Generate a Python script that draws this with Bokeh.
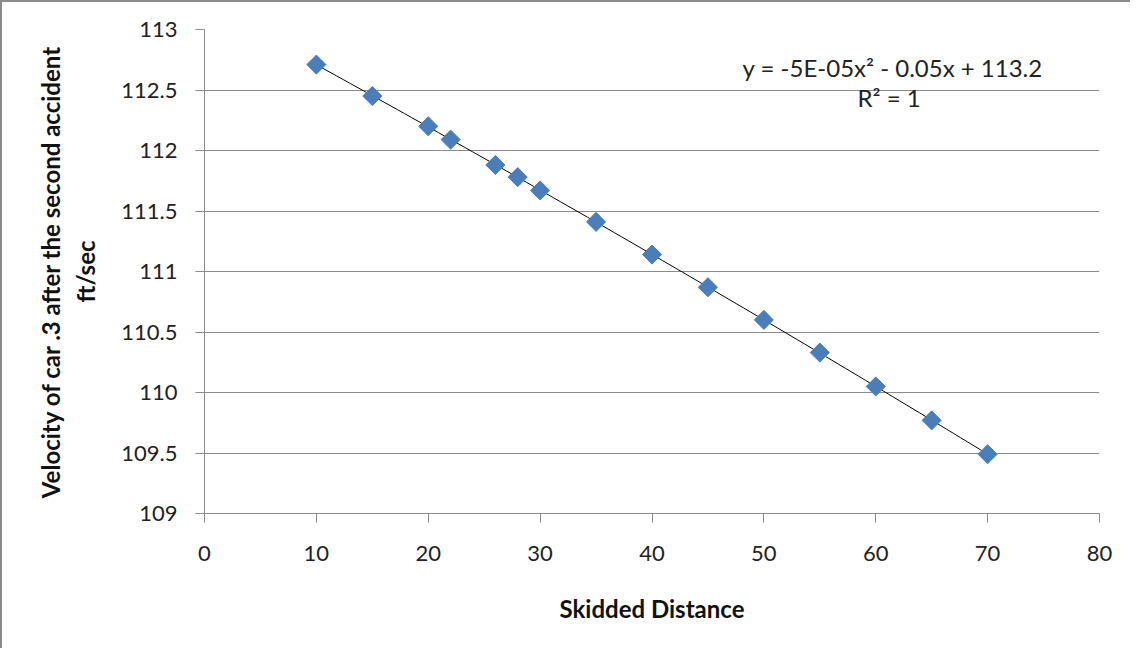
import numpy as np
from bokeh.plotting import figure
from bokeh.models import Label, FixedTicker
from bokeh.embed import file_html
from bokeh.resources import INLINE

# data
distance = [10, 15, 20, 22, 26, 28, 30, 35, 40, 45, 50, 55, 60, 65, 70]
velocity = [112.71, 112.45, 112.20, 112.09, 111.88, 111.78, 111.67, 111.41,
            111.14, 110.87, 110.60, 110.33, 110.05, 109.77, 109.49]
x_ticks = [0, 10, 20, 30, 40, 50, 60, 70, 80]
y_ticks = [109, 109.5, 110, 110.5, 111, 111.5, 112, 112.5, 113]
equation_text = "y = -5E-05x\u00b2 - 0.05x + 113.2"
r2_text = "R\u00b2 = 1"

FONT = "Lato"
GRAY = "#8c8c8c"

p = figure(width=1130, height=648, output_backend="svg", toolbar_location=None,
           x_range=(0, 80), y_range=(109, 113),
           min_border_left=202, min_border_top=27, min_border_right=33,
           min_border_bottom=137)
p.styles = {"border-left": "2px solid #8c8c8c", "border-top": "2px solid #8c8c8c"}
p.outline_line_color = None
p.background_fill_color = "white"
p.border_fill_color = "white"

# grid
p.xgrid.grid_line_color = None
p.ygrid.grid_line_color = GRAY
p.ygrid.grid_line_width = 1

for ax in (p.xaxis[0], p.yaxis[0]):
    ax.axis_line_color = GRAY
    ax.major_tick_line_color = GRAY
    ax.major_tick_out = 9
    ax.major_tick_in = 0
    ax.minor_tick_line_color = None
    ax.major_label_text_font = FONT
    ax.major_label_text_font_size = "22px"
    ax.major_label_text_color = "#222222"
    ax.axis_label_text_font = FONT
    ax.axis_label_text_font_size = "24px"
    ax.axis_label_text_font_style = "bold"
    ax.axis_label_text_color = "#111111"

p.xaxis.ticker = FixedTicker(ticks=x_ticks)
p.yaxis.ticker = FixedTicker(ticks=y_ticks)
p.yaxis.major_label_overrides = {109: "109", 110: "110", 111: "111", 112: "112", 113: "113"}
p.xaxis.major_label_standoff = 23
p.yaxis.major_label_standoff = 18
p.xaxis.axis_label = "Skidded Distance"
p.xaxis.axis_label_standoff = 30
p.yaxis.axis_label = "Velocity of car .3 after the second accident\nft/sec"
p.yaxis.axis_label_standoff = 18

# polynomial trendline (order 2) fitted to the data
coef = np.polyfit(distance, velocity, 2)
tx = np.linspace(min(distance), max(distance), 100)
ty = np.polyval(coef, tx)
p.line(tx, ty, line_color="black", line_width=1)

p.scatter(distance, velocity, marker="square", size=13.5, angle=np.pi / 4,
          fill_color="#4a7ebb", line_color="#4a7ebb")

p.add_layout(Label(x=48.1, y=112.685, text=equation_text, text_align="left",
                   text_baseline="middle", text_font=FONT, text_font_size="24px",
                   text_color="#222222"))
p.add_layout(Label(x=61.2, y=112.44, text=r2_text, text_align="center",
                   text_baseline="middle", text_font=FONT, text_font_size="24px",
                   text_color="#222222"))

open("out.html", "w").write(file_html(p, INLINE))
